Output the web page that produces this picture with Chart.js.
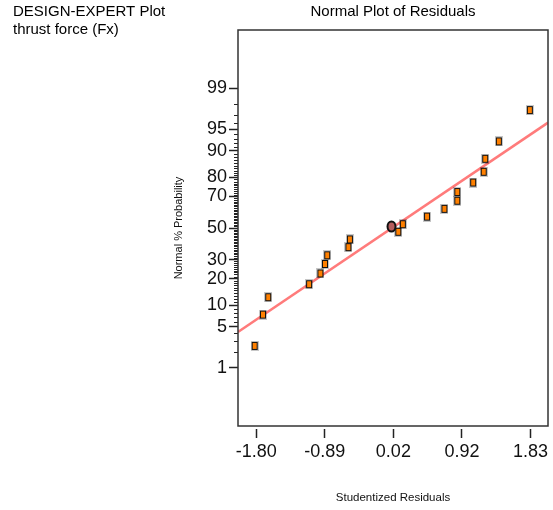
<!DOCTYPE html>
<html>
<head>
<meta charset="utf-8">
<title>Normal Plot of Residuals</title>
<script src="https://cdn.jsdelivr.net/npm/chart.js@4.4.1/dist/chart.umd.min.js"></script>
<style>
    html, body { margin: 0; padding: 0; background: #fff; }
    #wrap { width: 553px; height: 510px; }
</style>
</head>
<body>
<div id="wrap"><canvas id="plot" width="553" height="510"></canvas></div>
<script>
// ── Data ────────────────────────────────────────────────────────

// studentized residuals, sorted, and their normal % probability
const residuals = [-1.82, -1.71, -1.64, -1.10, -0.95, -0.89, -0.86, -0.58, -0.56, 0.08,
                   0.14, 0.46, 0.69, 0.86, 0.86, 1.07, 1.21, 1.23, 1.41, 1.82];
const probabilities = [2.5, 7.5, 12.5, 17.5, 22.5, 27.5, 32.5, 37.5, 42.5, 47.5,
                       52.5, 57.5, 62.5, 67.5, 72.5, 77.5, 82.5, 87.5, 92.5, 97.5];

// highlighted point
const markedResidual = [-0.01];
const markedProbability = [51];

// reference line end points
const fitResiduals = [-2.04, 2.06];
const fitProbabilities = [4.2, 96.0];

// axes
const xMin = -2.04, xMax = 2.06;
const xTickValues = [-1.80, -0.8925, 0.015, 0.9225, 1.83];
const xTickLabels = ['-1.80', '-0.89', '0.02', '0.92', '1.83'];
const yTickPercents = [1, 5, 10, 20, 30, 50, 70, 80, 90, 95, 99];
const yTickLabels = ['1', '5', '10', '20', '30', '50', '70', '80', '90', '95', '99'];
const yLimitPercent = 99.95;

const FONT = "'Liberation Sans', Arial, sans-serif";

// ── Normal quantile (Acklam) ────────────────────────────────────

function probit(p) {
    const a = [-3.969683028665376e+01, 2.209460984245205e+02, -2.759285104469687e+02,
               1.383577518672690e+02, -3.066479806614716e+01, 2.506628277459239e+00];
    const b = [-5.447609879822406e+01, 1.615858368580409e+02, -1.556989798598866e+02,
               6.680131188771972e+01, -1.328068155288572e+01];
    const c = [-7.784894002430293e-03, -3.223964580411365e-01, -2.400758277161838e+00,
               -2.549671348133320e+00, 4.374664141464968e+00, 2.938163982698783e+00];
    const d = [7.784695709041462e-03, 3.224671290700398e-01, 2.445134137142996e+00,
               3.754408661907416e+00];
    const plow = 0.02425;
    let q, r;
    if (p < plow) {
        q = Math.sqrt(-2 * Math.log(p));
        return (((((c[0]*q + c[1])*q + c[2])*q + c[3])*q + c[4])*q + c[5]) /
               ((((d[0]*q + d[1])*q + d[2])*q + d[3])*q + 1);
    }
    if (p > 1 - plow) {
        q = Math.sqrt(-2 * Math.log(1 - p));
        return -(((((c[0]*q + c[1])*q + c[2])*q + c[3])*q + c[4])*q + c[5]) /
                ((((d[0]*q + d[1])*q + d[2])*q + d[3])*q + 1);
    }
    q = p - 0.5;
    r = q * q;
    return (((((a[0]*r + a[1])*r + a[2])*r + a[3])*r + a[4])*r + a[5]) * q /
           (((((b[0]*r + b[1])*r + b[2])*r + b[3])*r + b[4])*r + 1);
}

const toZ = (pct) => probit(pct / 100);

// ── Markers ─────────────────────────────────────────────────────

function squareMarker() {
    const cv = document.createElement('canvas');
    cv.width = 8; cv.height = 10;
    const g = cv.getContext('2d');
    g.fillStyle = 'rgba(0,0,0,0.22)';
    g.fillRect(0, 0, 8, 10);
    g.fillStyle = '#111';
    g.fillRect(1, 1, 6, 8);
    g.fillStyle = '#ff8000';
    g.fillRect(2, 2, 4, 6);
    return cv;
}

function circleMarker() {
    const cv = document.createElement('canvas');
    cv.width = 11; cv.height = 13;
    const g = cv.getContext('2d');
    g.beginPath();
    g.ellipse(5.5, 6.5, 4, 5, 0, 0, Math.PI * 2);
    g.fillStyle = '#b45c5c';
    g.fill();
    g.lineWidth = 2;
    g.strokeStyle = '#111';
    g.stroke();
    return cv;
}

// ── Plugins: frame, minor ticks, header text ────────────────────

const framePlugin = {
    id: 'frame',
    afterDraw(chart) {
        const { ctx, chartArea: ca } = chart;
        const yScale = chart.scales.y;
        ctx.save();

        // minor probability ticks every 1%
        ctx.strokeStyle = '#222';
        ctx.lineWidth = 1;
        ctx.beginPath();
        for (let p = 1; p <= 99; p++) {
            if (yTickPercents.includes(p)) continue;
            const py = Math.round(yScale.getPixelForValue(toZ(p))) + 0.5;
            ctx.moveTo(ca.left - 4, py);
            ctx.lineTo(ca.left, py);
        }
        ctx.stroke();

        // plot box
        ctx.strokeStyle = '#333';
        ctx.lineWidth = 1.5;
        ctx.strokeRect(ca.left, ca.top, ca.right - ca.left, ca.bottom - ca.top);

        // headings
        ctx.fillStyle = '#000';
        ctx.font = `15px ${FONT}`;
        ctx.textBaseline = 'middle';
        ctx.textAlign = 'left';
        ctx.fillText('DESIGN-EXPERT Plot', 13, 12);
        ctx.fillText('thrust force (Fx)', 13, 30);
        ctx.textAlign = 'center';
        ctx.fillText('Normal Plot of Residuals', (ca.left + ca.right) / 2, 12);
        ctx.restore();
    }
};

// ── Chart ───────────────────────────────────────────────────────

const squarePoints = residuals.map((x, i) => ({ x, y: toZ(probabilities[i]) }));
const markedPoints = markedResidual.map((x, i) => ({ x, y: toZ(markedProbability[i]) }));
const fitPoints = fitResiduals.map((x, i) => ({ x, y: toZ(fitProbabilities[i]) }));

new Chart(document.getElementById('plot'), {
    type: 'scatter',
    data: {
        datasets: [
            {
                label: 'marked',
                data: markedPoints,
                pointStyle: circleMarker(),
                order: 0,
            },
            {
                label: 'Residuals',
                data: squarePoints,
                pointStyle: squareMarker(),
                order: 1,
            },
            {
                type: 'line',
                label: 'fit',
                data: fitPoints,
                borderColor: '#ff7b7b',
                borderWidth: 2.5,
                pointRadius: 0,
                fill: false,
                order: 2,
            },
        ],
    },
    options: {
        responsive: false,
        animation: false,
        events: [],
        layout: { padding: { top: 30, right: 4, bottom: 0, left: 0 } },
        plugins: {
            legend: { display: false },
            tooltip: { enabled: false },
            title: { display: false },
        },
        scales: {
            x: {
                type: 'linear',
                min: xMin,
                max: xMax,
                afterBuildTicks: (scale) => {
                    scale.ticks = xTickValues.map(v => ({ value: v }));
                },
                afterFit: (scale) => { scale.height = 84; },
                grid: {
                    drawOnChartArea: false,
                    tickLength: 12,
                    tickColor: '#222',
                    tickWidth: 1.5,
                },
                border: { display: true, width: 6, color: 'rgba(0,0,0,0)' },
                ticks: {
                    autoSkip: false,
                    maxRotation: 0,
                    padding: 3,
                    color: '#111',
                    font: { family: FONT, size: 18 },
                    callback: (v, i) => xTickLabels[i],
                },
                title: {
                    display: true,
                    text: 'Studentized Residuals',
                    color: '#111',
                    font: { family: FONT, size: 11.5 },
                    padding: { top: 0, bottom: 5 },
                },
            },
            y: {
                type: 'linear',
                min: toZ(100 - yLimitPercent),
                max: toZ(yLimitPercent),
                afterBuildTicks: (scale) => {
                    scale.ticks = yTickPercents.map(p => ({ value: toZ(p) }));
                },
                afterFit: (scale) => { scale.width = 238; },
                grid: {
                    drawOnChartArea: false,
                    tickLength: 9,
                    tickColor: '#222',
                    tickWidth: 1.5,
                },
                border: { display: false },
                ticks: {
                    autoSkip: false,
                    padding: 2,
                    color: '#111',
                    font: { family: FONT, size: 18 },
                    callback: (v, i) => yTickLabels[i],
                },
                title: {
                    display: true,
                    text: 'Normal % Probability',
                    color: '#111',
                    font: { family: FONT, size: 11 },
                    padding: { top: 172, bottom: 0 },
                },
            },
        },
    },
    plugins: [framePlugin],
});
</script>
</body>
</html>
